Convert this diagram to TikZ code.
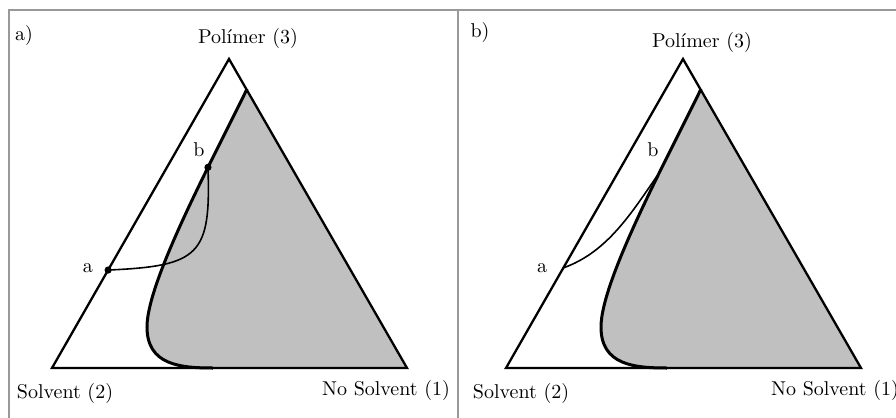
\documentclass[tikz,border=0pt]{standalone}
\usepackage{tikz}
\usetikzlibrary{calc}

\definecolor{fasegris}{RGB}{192,192,192}
\tikzset{
  marco/.style={draw=gray!80, line width=0.6pt},
  lado/.style={line width=1.15pt, line join=miter},
  binodal/.style={line width=1.5pt},
  camino/.style={line width=0.8pt},
  punto/.style={fill=black}
}

\begin{document}
\begin{tikzpicture}[x=0.5pt,y=-0.5pt]
  \useasboundingbox (0,0) rectangle (896,418);

  % frame of the two panels
  \draw[marco] (9,430) -- (9,10) -- (900,10);
  \draw[marco] (458,10) -- (458,430);

  % panel a)
  \node (tagA) at (24,35) {a)};
  \coordinate (polA) at (229,59);
  \coordinate (solA) at (52,368);
  \coordinate (nosA) at (407,368);
  \fill[fasegris] (247,89) .. controls (215,155) and (147,280) .. (147,327)
    .. controls (147,365) and (180,368) .. (213,368) -- (nosA) -- cycle;
  \draw[lado] (polA) -- (solA) -- (nosA) -- cycle;
  \draw[binodal] (247,89) .. controls (215,155) and (147,280) .. coordinate[pos=0.325] (bA) (147,327)
    .. controls (147,365) and (180,368) .. (213,368);
  \coordinate (aA) at ($(polA)!0.683!(solA)$);
  \draw[camino] (aA) .. controls (200,266) and (211,255) .. (bA);
  \fill[punto] (aA) circle (1.8pt);
  \fill[punto] (bA) circle (1.8pt);
  \node (labaA) at (88,268) {a};
  \node (labbA) at (199,150) {b};
  \node (txtpolA) at (248,38) {Polímer (3)};
  \node (txtsolA) at (65,393) {Solvent (2)};
  \node (txtnosA) at (386,390) {No Solvent (1)};

  % panel b)
  \begin{scope}[shift={(454,0)}]
    \node (tagB) at (26,32) {b)};
    \coordinate (polB) at (229,59);
    \coordinate (solB) at (52,368);
    \coordinate (nosB) at (407,368);
    \fill[fasegris] (247,89) .. controls (215,155) and (147,280) .. (147,327)
      .. controls (147,365) and (180,368) .. (213,368) -- (nosB) -- cycle;
    \draw[lado] (polB) -- (solB) -- (nosB) -- cycle;
    \draw[binodal] (247,89) .. controls (215,155) and (147,280) .. coordinate[pos=0.345] (bB) (147,327)
      .. controls (147,365) and (180,368) .. (213,368);
    \coordinate (aB) at ($(polB)!0.676!(solB)$);
    \draw[camino] (aB) .. controls (154,252) and (178,212) .. (bB);
    \node (labaB) at (88,268) {a};
    \node (labbB) at (199,150) {b};
    \node (txtpolB) at (248,42) {Polímer (3)};
    \node (txtsolB) at (67,393) {Solvent (2)};
    \node (txtnosB) at (381,390) {No Solvent (1)};
  \end{scope}
\end{tikzpicture}
\end{document}
